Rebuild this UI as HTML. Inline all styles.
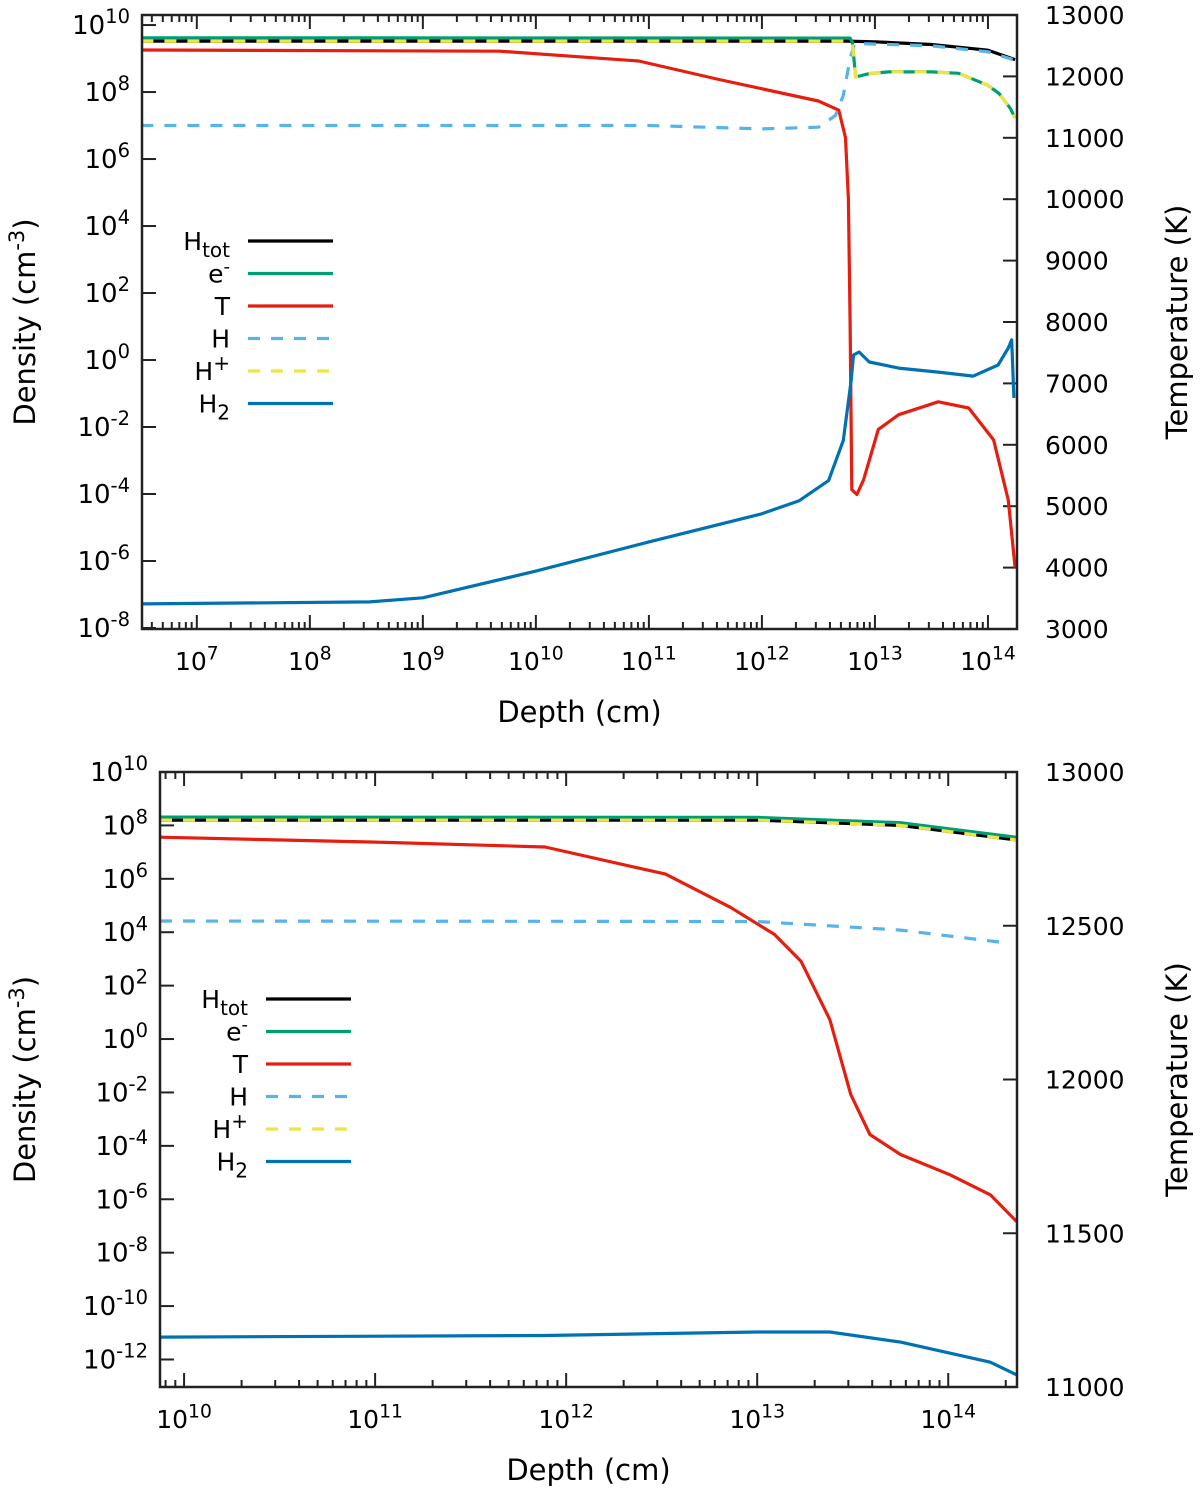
<!DOCTYPE html>
<html><head><meta charset="utf-8">
<style>
html,body{margin:0;padding:0;background:#fff;}
svg{display:block;font-family:"DejaVu Sans","Liberation Sans",sans-serif;}
</style></head>
<body>
<svg id="chart" width="1200" height="1492" viewBox="0 0 1200 1492" xmlns="http://www.w3.org/2000/svg"></svg>
<script>
// ===== Top panel data (x = log10 depth, density = log10 cm^-3, T in K) =====
const topHtotX = [6.51, 12.75, 13.0, 13.5, 14.0, 14.24];
const topHtotY = [9.52, 9.52, 9.50, 9.42, 9.25, 8.97];
const topEX = [6.51, 12.78, 12.80, 12.83, 12.95, 13.12, 13.5, 13.74, 14.0, 14.1, 14.2, 14.24];
const topEY = [9.62, 9.61, 9.49, 8.45, 8.55, 8.6, 8.6, 8.56, 8.2, 7.95, 7.5, 7.22];
const topTX = [6.51, 9.68, 10.91, 11.62, 12.50, 12.68, 12.74, 12.765, 12.78, 12.795, 12.84, 12.90, 13.03, 13.21, 13.56, 13.83, 14.05, 14.18, 14.24];
const topTY = [12430, 12410, 12250, 11950, 11600, 11450, 11000, 10000, 8000, 5270, 5190, 5430, 6250, 6490, 6700, 6600, 6080, 5100, 4000];
const topHX = [6.51, 11.0, 12.0, 12.5, 12.65, 12.72, 12.78, 12.82, 13.5, 14.0, 14.24];
const topHY = [7.0, 7.0, 6.9, 6.95, 7.3, 7.9, 9.0, 9.45, 9.38, 9.2, 8.95];
const topHpX = topEX;
const topHpY = [9.52, 9.52, 9.45, 8.45, 8.55, 8.6, 8.6, 8.56, 8.2, 7.95, 7.5, 7.22];
const topH2X = [6.51, 8.53, 9.0, 10.0, 11.0, 11.99, 12.33, 12.59, 12.72, 12.79, 12.81, 12.86, 12.95, 13.21, 13.56, 13.87, 14.09, 14.18, 14.21, 14.23];
const topH2Y = [-7.28, -7.22, -7.1, -6.3, -5.43, -4.6, -4.2, -3.6, -2.4, -0.6, 0.15, 0.24, -0.06, -0.24, -0.36, -0.48, -0.15, 0.36, 0.6, -1.13];
const topXTicks = [7, 8, 9, 10, 11, 12, 13, 14];
const topYTicks = [10, 8, 6, 4, 2, 0, -2, -4, -6, -8];
const topTTicks = [13000, 12000, 11000, 10000, 9000, 8000, 7000, 6000, 5000, 4000, 3000];

// ===== Bottom panel data =====
const botHtotX = [9.874, 13.0, 13.75, 14.36];
const botHtotY = [8.2, 8.2, 8.0, 7.45];
const botEX = [9.874, 13.0, 13.75, 14.36];
const botEY = [8.31, 8.3, 8.1, 7.55];
const botTX = [9.874, 11.0, 11.89, 12.52, 12.86, 13.09, 13.23, 13.38, 13.49, 13.59, 13.75, 14.01, 14.22, 14.36];
const botTY = [12788, 12772, 12756, 12668, 12560, 12472, 12384, 12195, 11951, 11821, 11756, 11690, 11625, 11537];
const botHX = [9.874, 13.0, 13.75, 14.27, 14.31];
const botHY = [4.42, 4.4, 4.08, 3.63, 3.4];
const botHpX = botHtotX;
const botHpY = [8.2, 8.2, 8.0, 7.45];
const botH2X = [9.874, 11.89, 13.0, 13.38, 13.75, 14.22, 14.36];
const botH2Y = [-11.16, -11.1, -10.97, -10.97, -11.35, -12.1, -12.58];
const botXTicks = [10, 11, 12, 13, 14];
const botYTicks = [10, 8, 6, 4, 2, 0, -2, -4, -6, -8, -10, -12];
const botTTicks = [13000, 12500, 12000, 11500, 11000];

const svg = document.getElementById('chart');
const NS = 'http://www.w3.org/2000/svg';
function mk(tag, attrs, parent) {
  const e = document.createElementNS(NS, tag);
  for (const k in attrs) e.setAttribute(k, attrs[k]);
  (parent || svg).appendChild(e);
  return e;
}
const COL = {htot:'#000', e:'#009e73', T:'#e51e10', H:'#56b4e9', Hp:'#f0e442', H2:'#0072b2'};

function supText(parent, x, y, base, sup, anchor, size) {
  const t = mk('text', {x:x, y:y, 'text-anchor':anchor, 'font-size':size, fill:'#000'}, parent);
  const a = document.createElementNS(NS, 'tspan'); a.textContent = base; t.appendChild(a);
  const b = document.createElementNS(NS, 'tspan'); b.setAttribute('dy', -size*0.42); b.setAttribute('font-size', size*0.75); b.textContent = sup; t.appendChild(b);
  return t;
}

function panel(cfg) {
  const g = mk('g', {});
  
  
  const L=cfg.L, R=cfg.R, T=cfg.T, B=cfg.B;
  const xs = v => L + (v - cfg.xmin) / (cfg.xmax - cfg.xmin) * (R - L);
  const ys = v => B - (v - cfg.ymin) / (cfg.ymax - cfg.ymin) * (B - T);
  const ts = v => B - (v - cfg.tmin) / (cfg.tmax - cfg.tmin) * (B - T);
  const cid = cfg.name + '-clip';
  const cp = mk('clipPath', {id: cid}, g); mk('rect', {x:L, y:T, width:R-L, height:B-T}, cp);
  const tg = mk('g', {stroke:'#222', 'stroke-width':2}, g);
  
  
  for (let d = Math.floor(cfg.xmin); d <= Math.ceil(cfg.xmax); d++) {
    for (let m = 1; m <= 9; m++) {
      const v = d + Math.log10(m);
      if (v < cfg.xmin || v > cfg.xmax) continue;
      const px = xs(v), len = m === 1 ? 14 : 7;
      mk('line', {x1:px, y1:B, x2:px, y2:B-len}, tg);
      mk('line', {x1:px, y1:T, x2:px, y2:T+len}, tg);
    }
  }
  cfg.xticks.forEach(v => {
    const lab = supText(g, xs(v), B + 41, '10', String(v), 'middle', 25);
    
    
  });
  cfg.yticks.forEach(v => {
    mk('line', {x1:L, y1:ys(v), x2:L+14, y2:ys(v)}, tg);
    const lab = supText(g, L - 12, ys(v) + 9, '10', String(v), 'end', 26);
    
    
  });
  cfg.tticks.forEach(v => {
    mk('line', {x1:R, y1:ts(v), x2:R-14, y2:ts(v)}, tg);
    const lab = mk('text', {x:R+28, y:ts(v)+9, 'font-size':25, fill:'#000'}, g);
    lab.textContent = v;
    
    
  });
  const sg = mk('g', {'clip-path':'url(#'+cid+')', fill:'none', 'stroke-width':3.2, 'stroke-linejoin':'round'}, g);
  function line(X, Y, col, dash, temp, name) {
    const d = X.map((v,i)=> (i?'L':'M') + xs(v).toFixed(1) + ',' + (temp ? ts(Y[i]) : ys(Y[i])).toFixed(1)).join(' ');
    const p = mk('path', {d:d, stroke:col}, sg);
    if (dash) p.setAttribute('stroke-dasharray', '12 11');
    
    
  }
  const D = cfg.data;
  line(D.htotX, D.htotY, COL.htot, false, false, 'series-htot');
  line(D.eX, D.eY, COL.e, false, false, 'series-electrons');
  line(D.tX, D.tY, COL.T, false, true, 'series-temperature');
  line(D.hX, D.hY, COL.H, true, false, 'series-h');
  line(D.hpX, D.hpY, COL.Hp, true, false, 'series-h-plus');
  line(D.h2X, D.h2Y, COL.H2, false, false, 'series-h2');
  const fr = mk('rect', {x:L, y:T, width:R-L, height:B-T, fill:'none', stroke:'#222', 'stroke-width':2.5}, g);
  
  
  const lg = mk('g', {}, g);
  
  
  const cols = [COL.htot, COL.e, COL.T, COL.H, COL.Hp, COL.H2];
  const dashes = [false,false,false,true,true,false];
  for (let i = 0; i < 6; i++) {
    const y = cfg.legY + i*32.5;
    const e = mk('line', {x1:cfg.legX, y1:y, x2:cfg.legX+85, y2:y, stroke:cols[i], 'stroke-width':3.2}, lg);
    if (dashes[i]) e.setAttribute('stroke-dasharray', '12 11');
    
    
    const t = mk('text', {x:cfg.legX-18, y:y+9, 'text-anchor':'end', 'font-size':25, fill:'#000'}, lg);
    if (i===0) { t.innerHTML = '<tspan>H</tspan><tspan dy="7" font-size="20">tot</tspan>'; }
    else if (i===1) { t.innerHTML = '<tspan>e</tspan><tspan dy="-10" font-size="18">-</tspan>'; }
    else if (i===2) { t.textContent = 'T'; }
    else if (i===3) { t.textContent = 'H'; }
    else if (i===4) { t.innerHTML = '<tspan>H</tspan><tspan dy="-10" font-size="20">+</tspan>'; }
    else { t.innerHTML = '<tspan>H</tspan><tspan dy="7" font-size="20">2</tspan>'; }
  }
  const xt = mk('text', {x:(L+R)/2, y:B+93, 'text-anchor':'middle', 'font-size':29, fill:'#000'}, g);
  xt.textContent = 'Depth (cm)';
  
  
  const cy = (T+B)/2;
  const yt = mk('text', {x:0, y:0, 'text-anchor':'middle', 'font-size':29, fill:'#000', transform:'translate(35,'+cy+') rotate(-90)'}, g);
  yt.innerHTML = 'Density (cm<tspan dy="-11" font-size="21">-3</tspan><tspan dy="11">)</tspan>';
  
  
  const rt = mk('text', {x:0, y:0, 'text-anchor':'middle', 'font-size':29, fill:'#000', transform:'translate(1187,'+cy+') rotate(-90)'}, g);
  rt.textContent = 'Temperature (K)';
  
  
}

panel({name:'top-panel', L:142, R:1017, T:15, B:629,
  xmin:6.515, xmax:14.257, ymin:-8.03, ymax:10.3, tmin:3000, tmax:13000,
  xticks:topXTicks, yticks:topYTicks, tticks:topTTicks, legX:248, legY:241,
  data:{htotX:topHtotX,htotY:topHtotY,eX:topEX,eY:topEY,tX:topTX,tY:topTY,hX:topHX,hY:topHY,hpX:topHpX,hpY:topHpY,h2X:topH2X,h2Y:topH2Y}});
panel({name:'bottom-panel', L:160, R:1017, T:772, B:1387,
  xmin:9.874, xmax:14.36, ymin:-13.03, ymax:10, tmin:11000, tmax:13000,
  xticks:botXTicks, yticks:botYTicks, tticks:botTTicks, legX:266, legY:999,
  data:{htotX:botHtotX,htotY:botHtotY,eX:botEX,eY:botEY,tX:botTX,tY:botTY,hX:botHX,hY:botHY,hpX:botHpX,hpY:botHpY,h2X:botH2X,h2Y:botH2Y}});
</script>
</body></html>
